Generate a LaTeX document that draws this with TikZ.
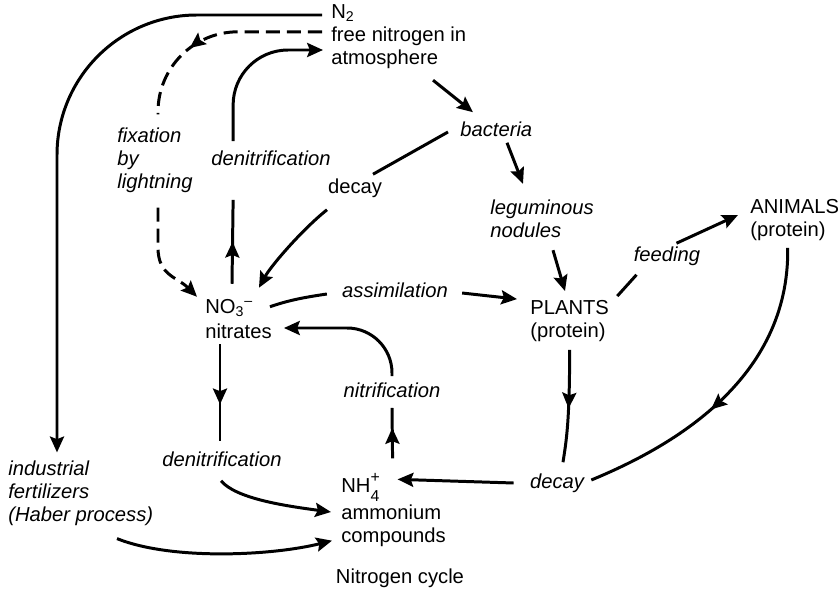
\documentclass[tikz,border=0pt]{standalone}
\usepackage{fontspec}
\setmainfont{Liberation Sans}
\usetikzlibrary{arrows.meta,calc,decorations.markings}

\begin{document}
\begin{tikzpicture}[x=0.02cm,y=-0.02cm,
	txt/.style={inner sep=0pt,align=left,font=\fontsize{11.5}{13}\selectfont},
	ittxt/.style={txt,font=\fontsize{11.5}{13}\selectfont\itshape},
	flow/.style={line width=1.7pt},
	fixline/.style={dash pattern=on 8pt off 4pt},
	arrowend/.style={-{Stealth[length=9pt,width=8pt,inset=1.5pt]}},
	midtip/.style={postaction={decorate,decoration={markings,mark=at position #1 with {\arrow{Stealth[length=9pt,width=8pt,inset=1.5pt]}}}}}]

	\useasboundingbox (0,0) rectangle (839,591);

	\node[txt,anchor=west] (n2) at (331,13) {N\textsubscript{2}};
	\node[txt,anchor=west] (atm) at (331,48) {free nitrogen in\\atmosphere};
	\node[ittxt,anchor=west] (fix) at (117,160) {fixation\\by\\lightning};
	\node[ittxt] (denU) at (271,158) {denitrification};
	\node[ittxt,anchor=west] (bact) at (460,129) {bacteria};
	\node[txt] (decU) at (355,188) {decay};
	\node[ittxt,anchor=west] (legum) at (490,219) {leguminous\\nodules};
	\node[txt,anchor=west] (no3) at (205,319) {NO\textsubscript{3}\textsuperscript{--}\\[1.5pt]nitrates};
	\node[ittxt] (assim) at (395,290) {assimilation};
	\node[txt,anchor=west] (plants) at (530,321) {PLANTS\\(protein)};
	\node[ittxt] (feed) at (667,256) {feeding};
	\node[txt,anchor=west] (anim) at (750,220) {ANIMALS\\(protein)};
	\node[ittxt] (nitrif) at (392,390) {nitrification};
	\node[ittxt] (denL) at (222,459) {denitrification};
	\node[ittxt,anchor=west] (ind) at (8,493) {industrial\\fertilizers\\(Haber process)};
	\node[txt,anchor=west] (nh4) at (341,510) {NH\rlap{\raisebox{0.5em}{\fontsize{9}{9}\selectfont +}}\raisebox{-0.4em}{\fontsize{9}{9}\selectfont 4}\\[2pt]ammonium\\compounds};
	\node[ittxt] (decL) at (557,483) {decay};
	\node[txt] (title) at (400,578) {Nitrogen cycle};

	\draw[flow,arrowend,rounded corners=2.8cm] ($(n2.west)+(-9,2)$) -| ($(ind.north west)+(49,-8)$);

	\draw[flow,fixline,rounded corners=1.6cm,midtip=0.64] ($(atm.north west)+(-9,5)$) -| ($(fix.north west)+(41,-13)$);
	\draw[flow,fixline,arrowend] ($(fix.south west)+(41,15)$) -- ++(0,40) .. controls +(0,28) and +(-20,-20) .. ($(no3.north west)+(-8,-2)$);

	\draw[flow,midtip=0.5] ($(no3.north west)+(27,-15)$) -- ($(denU.south west)+(22,34)$);
	\draw[flow,arrowend,rounded corners=1.1cm] ($(denU.north west)+(22,-9)$) |- ($(atm.west)+(-8,2)$);

	\draw[flow,arrowend] ($(atm.south west)+(102,11)$) -- ($(bact.north west)+(13,-9)$);
	\draw[flow] ($(bact.west)+(-12,3)$) -- ($(decU.north)+(18,-4)$);
	\draw[flow,arrowend] ($(decU.south)+(-28,12)$) .. controls +(-25,20) and +(12,-22) .. ($(no3.north east)+(-13,-11)$);

	\draw[flow] ($(no3.north east)+(-2,8)$) .. controls +(20,-7) and +(-20,3) .. ($(assim.west)+(-15,4)$);
	\draw[flow,arrowend] ($(assim.east)+(14,3)$) -- ($(plants.north west)+(-13,-1)$);

	\draw[flow,arrowend] ($(bact.south west)+(47,6)$) -- ($(legum.north west)+(33,-16)$);
	\draw[flow,arrowend] ($(legum.south west)+(63,12)$) -- ($(plants.north west)+(35,-9)$);

	\draw[flow] ($(plants.north east)+(8,-4)$) -- ($(feed.south west)+(3,9)$);
	\draw[flow,arrowend] ($(feed.north west)+(43,-3)$) -- ($(anim.west)+(-12,-5)$);

	\draw[flow,midtip=0.52] ($(plants.south)+(0,8)$) .. controls +(0,75) and +(3,-20) .. ($(decL.north)+(6,-11)$);
	\draw[flow,midtip=0.57] ($(anim.south)+(-7,7)$) .. controls +(2,132) and +(80,-33) .. ($(decL.east)+(7,-3)$);
	\draw[flow,arrowend] ($(decL.west)+(-16,0)$) -- ($(nh4.north)+(4,6)$);

	\draw[flow,midtip=0.6] ($(nh4.north)+(-1,-15)$) -- ($(nitrif.south)+(0,10)$);
	\draw[flow,arrowend,rounded corners=0.9cm] ($(nitrif.north)+(0,-6)$) |- ($(no3.east)+(12,9)$);

	\draw[flow,midtip=0.62] ($(no3.south west)+(15,5)$) -- ($(denL.north)+(-2,-10)$);
	\draw[flow,arrowend] ($(denL.south)+(-1,14)$) .. controls +(15,18) and +(-45,-6) .. ($(nh4.west)+(-10,2)$);
	\draw[flow,arrowend] ($(ind.south west)+(109,13)$) .. controls +(55,22) and +(-60,15) .. ($(nh4.south west)+(-9,-6)$);

\end{tikzpicture}
\end{document}
